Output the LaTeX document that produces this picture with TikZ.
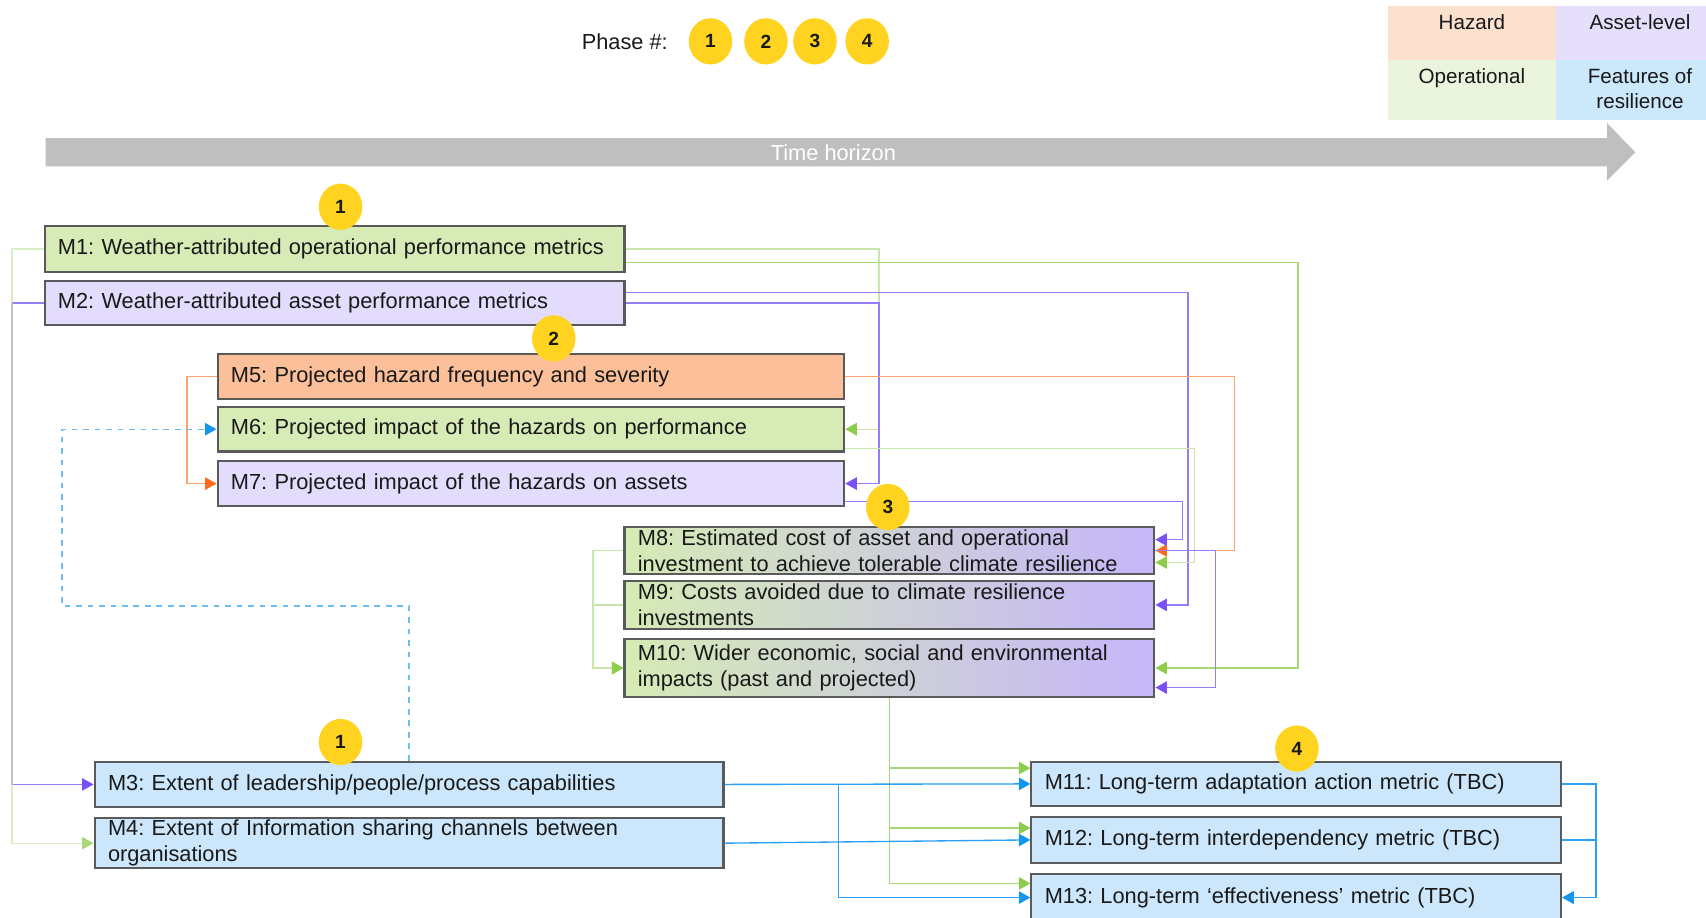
\documentclass[tikz,border=0pt]{standalone}
\usepackage{fontspec}
\setmainfont{Liberation Sans}
\usepackage{xcolor}
\usetikzlibrary{arrows.meta,shapes.geometric}
\frenchspacing
\definecolor{boxEdge}{HTML}{5A5A5A}
\definecolor{fillOp}{HTML}{D6EBB5}
\definecolor{fillAsset}{HTML}{E3DCFC}
\definecolor{fillHaz}{HTML}{FBC09A}
\definecolor{fillRes}{HTML}{CCE7FB}
\definecolor{fillMid}{HTML}{D3DEEC}
\definecolor{fillMix}{HTML}{C6B6FA}
\definecolor{keyHaz}{HTML}{FCE1CF}
\definecolor{keyAsset}{HTML}{E6DFFB}
\definecolor{keyOp}{HTML}{EBF5DD}
\definecolor{keyRes}{HTML}{CCE8FB}
\definecolor{lnGreen}{HTML}{A6D873}
\definecolor{lnGreenL}{HTML}{CBE6AC}
\definecolor{lnPurple}{HTML}{977CF7}
\definecolor{lnOrange}{HTML}{FFA36E}
\definecolor{lnBlue}{HTML}{2A9FF3}
\definecolor{lnDash}{HTML}{6BBDF2}
\definecolor{tipGreen}{HTML}{8FCB4C}
\definecolor{tipPurple}{HTML}{7A50F7}
\definecolor{tipOrange}{HTML}{FF6A1A}
\definecolor{tipBlue}{HTML}{1196F2}
\definecolor{phaseGold}{HTML}{FFD320}
\definecolor{timeGray}{HTML}{BFBFBF}
\newcommand{\phasedot}[3]{%
  \node[phase] (#1) at (#2) {#3};
}

\begin{document}
\begin{tikzpicture}[x=0.02cm,y=-0.02cm,
  every node/.style={font=\fontsize{11.4}{13.6}\selectfont, text=black!90},
  mbox/.style={draw=boxEdge, line width=1.1pt, anchor=north west, inner xsep=7pt,
    inner ysep=0pt, align=left, text width=#1},
  mix/.style={left color=fillOp, middle color=fillMid, right color=fillMix},
  phase/.style={ellipse, fill=phaseGold, minimum width=0.8cm, minimum height=0.85cm,
    inner sep=0pt, font=\fontsize{10}{12}\selectfont\bfseries},
  keycell/.style={anchor=north west, inner sep=0pt, minimum width=#1},
  keytxt/.style={anchor=north, yshift=-1pt, align=center, font=\fontsize{10.8}{13}\selectfont},
  conn/.style={line width=0.7pt, -{Triangle[length=6pt,width=6.5pt,color=#1]}},
  gline/.style={conn=tipGreen, lnGreen},
  glight/.style={conn=tipGreen, lnGreenL},
  pline/.style={conn=tipPurple, lnPurple},
  oline/.style={conn=tipOrange, lnOrange},
  bline/.style={conn=tipBlue, lnBlue}]
  \useasboundingbox (0,0) rectangle (1568,843);

  \node[anchor=east] (phaseKey) at (620,38) {Phase \#:};
  \foreach \n/\xc in {1/653,2/704,3/749,4/797} {
    \phasedot{key\n}{\xc,38}{\n}
  }

  \node[keycell=3.1cm, minimum height=1.0cm, fill=keyHaz,
    label={[keytxt]north:Hazard}] (keyHaz) at (1275,5) {};
  \node[keycell=3.08cm, minimum height=1.0cm, fill=keyAsset,
    label={[keytxt]north:Asset-level}] (keyAsset) at (1430,5) {};
  \node[keycell=3.1cm, minimum height=1.1cm, fill=keyOp,
    label={[keytxt]north:Operational}] (keyOp) at (1275,55) {};
  \node[keycell=3.08cm, minimum height=1.1cm, fill=keyRes,
    label={[keytxt]north:Features of\\resilience}] (keyRes) at (1430,55) {};

  \fill[timeGray] (42,127) -- (1477,127) -- (1477,113) -- (1503,140)
    -- (1477,166) -- (1477,153) -- (42,153) -- cycle;
  \node[text=white] (timeLbl) at (766,140) {Time horizon};

  \node[mbox=10.17cm, minimum height=0.84cm, fill=fillOp] (m1) at (40,207)
    {M1: Weather-attributed operational performance metrics};
  \node[mbox=10.17cm, minimum height=0.82cm, fill=fillAsset] (m2) at (40,257)
    {M2: Weather-attributed asset performance metrics};
  \node[mbox=11.03cm, minimum height=0.84cm, fill=fillHaz] (m5) at (199,324)
    {M5: Projected hazard frequency and severity};
  \node[mbox=11.03cm, minimum height=0.82cm, fill=fillOp] (m6) at (199,373)
    {M6: Projected impact of the hazards on performance};
  \node[mbox=11.03cm, minimum height=0.82cm, fill=fillAsset] (m7) at (199,423)
    {M7: Projected impact of the hazards on assets};
  \node[mbox=9.25cm, minimum height=0.88cm, mix] (m8) at (573,483)
    {M8: Estimated cost of asset and operational\\investment to achieve tolerable climate resilience};
  \node[mbox=9.25cm, minimum height=0.88cm, mix] (m9) at (573,533)
    {M9: Costs avoided due to climate resilience\\investments};
  \node[mbox=9.25cm, minimum height=1.08cm, mix] (m10) at (573,586)
    {M10: Wider economic, social and environmental\\impacts (past and projected)};
  \node[mbox=11.07cm, minimum height=0.84cm, fill=fillRes] (m3) at (86,699)
    {M3: Extent of leadership/people/process capabilities};
  \node[mbox=11.07cm, minimum height=0.92cm, fill=fillRes] (m4) at (86,751)
    {M4: Extent of Information sharing channels between\\organisations};
  \node[mbox=9.25cm, minimum height=0.82cm, fill=fillRes] (m11) at (947,699)
    {M11: Long-term adaptation action metric (TBC)};
  \node[mbox=9.25cm, minimum height=0.84cm, fill=fillRes] (m12) at (947,750)
    {M12: Long-term interdependency metric (TBC)};
  \node[mbox=9.25cm, minimum height=0.88cm, fill=fillRes] (m13) at (947,802)
    {M13: Long-term ‘effectiveness’ metric (TBC)};

  \draw[pline] (m2.west) -- ++(-29,0) |- (m3.west);
  \draw[glight, opacity=0.7] (m1.west) -- ++(-29,0) |- (m4.west);
  \draw[glight] (m1.east) -- ++(233,0) |- (m6.east);
  \draw[gline] ([shift={(0,12)}]m1.east) -- ++(618,0) |- (m10.east);
  \draw[pline] ([shift={(0,-9.5)}]m2.east) -- ++(517,0) |- (m9.east);
  \draw[pline] (m2.east) -- ++(233,0) |- (m7.east);
  \draw[oline] (m5.east) -- ++(358,0) |- (m8.east);
  \draw[oline] (m5.west) -- ++(-27,0) |- (m7.west);
  \draw[glight] ([shift={(0,18)}]m6.east) -- ++(321,0) |- ([shift={(0,11)}]m8.east);
  \draw[pline] ([shift={(0,16.5)}]m7.east) -- ++(310,0) |- ([shift={(0,-10)}]m8.east);
  \draw[pline] (m8.east) -- ++(55,0) |- ([shift={(0,18)}]m10.east);
  \draw[glight] (m8.west) -- ++(-28,0) |- (m10.west);
  \draw[glight] (m9.west) -- ++(-28,0) |- (m10.west);
  \draw[conn=tipBlue, lnDash, dashed] (m3.north) -- ++(0,-142) -- ++(-319,0) |- (m6.west);
  \draw[gline] (m10.south) |- ([shift={(0,-14.5)}]m11.west);
  \draw[gline] (m10.south) |- ([shift={(0,-11)}]m12.west);
  \draw[gline] (m10.south) |- ([shift={(0,-13)}]m13.west);
  \draw[bline] (m3.east) -- (m11.west);
  \draw[bline] (m3.east) -- ++(105,0) |- (m13.west);
  \draw[bline] (m4.east) -- (m12.west);
  \draw[bline] (m11.east) -- ++(31,0) |- (m13.east);
  \draw[bline] (m12.east) -- ++(31,0) |- (m13.east);

  \phasedot{ph1a}{313,190}{1}
  \phasedot{ph2}{509,311}{2}
  \phasedot{ph3}{816,466}{3}
  \phasedot{ph1b}{313,682}{1}
  \phasedot{ph4}{1192,688}{4}

\end{tikzpicture}
\end{document}
